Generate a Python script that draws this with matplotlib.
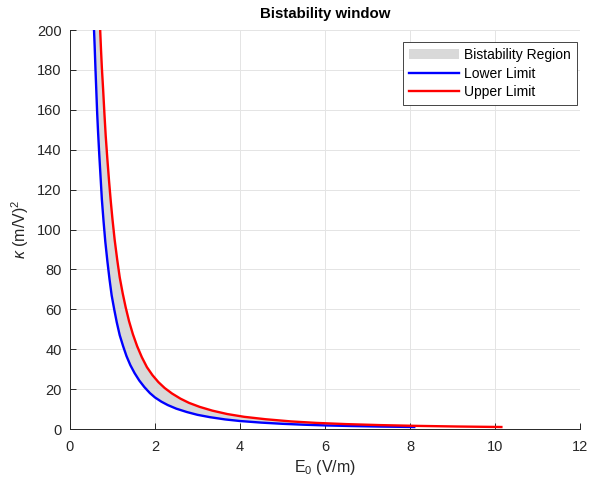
import matplotlib
matplotlib.use("Agg")
import matplotlib.pyplot as plt
from matplotlib.patches import Patch
from matplotlib.lines import Line2D

plt.rcParams["font.family"] = ["Liberation Sans", "DejaVu Sans"]
plt.rcParams["mathtext.fontset"] = "custom"
plt.rcParams["mathtext.rm"] = "Liberation Sans"
plt.rcParams["mathtext.it"] = "Liberation Sans:italic"

# ============================================================
# data
# ============================================================

# lower limit (blue)
e0_lower = [0.565, 0.58, 0.60, 0.62, 0.64, 0.66, 0.69, 0.72, 0.75, 0.79,
            0.83, 0.88, 0.93, 0.98, 1.04, 1.10, 1.17, 1.25, 1.33, 1.42,
            1.52, 1.63, 1.75, 1.88, 2.00, 2.15, 2.30, 2.50, 2.75, 3.00,
            3.30, 3.65, 4.00, 4.50, 5.00, 5.50, 6.00, 6.60, 7.30, 8.10]
kappa_lower = [200, 192, 180, 169, 158, 149, 137, 126, 115, 104,
               94, 84, 75, 67, 60, 53.5, 47, 41.5, 36.5, 32,
               28, 24.3, 21, 18, 15.8, 13.7, 12, 10.2, 8.5, 7.1,
               5.9, 4.8, 4.0, 3.2, 2.6, 2.15, 1.8, 1.5, 1.22, 1.0]

# upper limit (red)
e0_upper = [0.71, 0.73, 0.75, 0.78, 0.81, 0.84, 0.88, 0.92, 0.96, 1.00,
            1.05, 1.11, 1.17, 1.24, 1.31, 1.39, 1.48, 1.58, 1.69, 1.81,
            1.94, 2.08, 2.23, 2.40, 2.60, 2.80, 3.05, 3.35, 3.70, 4.10,
            4.60, 5.20, 5.80, 6.50, 7.30, 8.20, 9.10, 10.15]
kappa_upper = [200, 190, 181, 170, 158, 147, 135, 124, 114, 105,
               95, 85, 76, 68, 61, 54, 47.5, 41.5, 36, 31,
               27, 23.5, 20.5, 17.8, 15.2, 13.1, 11.1, 9.2, 7.5, 6.1,
               4.9, 3.8, 3.05, 2.45, 1.95, 1.55, 1.25, 1.0]

x_ticks = [0, 2, 4, 6, 8, 10, 12]
y_ticks = [0, 20, 40, 60, 80, 100, 120, 140, 160, 180, 200]

# ============================================================
# plot
# ============================================================

axis_col = "#262626"

fig = plt.figure(figsize=(5.89, 4.86), dpi=100)
ax = fig.add_axes([70 / 589, 57 / 486, 510 / 589, 399 / 486])

# bistability region between the two limits
poly_x = e0_lower + e0_upper[::-1]
poly_y = kappa_lower + kappa_upper[::-1]
ax.fill(poly_x, poly_y, color="#d9d9d9", lw=0, zorder=2)

ax.plot(e0_lower, kappa_lower, color="#0000ff", lw=1.7, zorder=3)
ax.plot(e0_upper, kappa_upper, color="#ff0000", lw=1.7, zorder=4)

ax.set_xlim(0, 12)
ax.set_ylim(0, 200)
ax.set_xticks(x_ticks)
ax.set_yticks(y_ticks)

ax.grid(True, color="#e4e4e4", lw=0.7, zorder=0)
ax.set_axisbelow(True)

for side in ["top", "right"]:
    ax.spines[side].set_visible(False)
for side in ["left", "bottom"]:
    ax.spines[side].set_color(axis_col)
    ax.spines[side].set_linewidth(0.7)

ax.tick_params(direction="in", length=4, width=0.7, colors=axis_col,
               labelsize=10.5, labelcolor=axis_col)
ax.tick_params(axis="x", pad=8)
ax.tick_params(axis="y", pad=6)

ax.set_xlabel(r"E$_0$ (V/m)", fontsize=11.5, color=axis_col, labelpad=3)
ax.set_ylabel(r"$\kappa$ (m/V)$^2$", fontsize=11.5, color=axis_col, labelpad=4)
ax.set_title("Bistability window", fontsize=10.8, fontweight="bold", pad=9)

handles = [
    Patch(facecolor="#d9d9d9", edgecolor="none", label="Bistability Region"),
    Line2D([], [], color="#0000ff", lw=1.7, label="Lower Limit"),
    Line2D([], [], color="#ff0000", lw=1.7, label="Upper Limit"),
]
leg = ax.legend(handles=handles, loc="upper right", bbox_to_anchor=(0.995, 0.97),
                fontsize=10, frameon=True, fancybox=False, framealpha=1,
                edgecolor=axis_col, borderpad=0.45, labelspacing=0.32,
                handlelength=3.6, handletextpad=0.4, borderaxespad=0)
leg.get_frame().set_linewidth(0.6)

fig.savefig("out.png", dpi=100)
